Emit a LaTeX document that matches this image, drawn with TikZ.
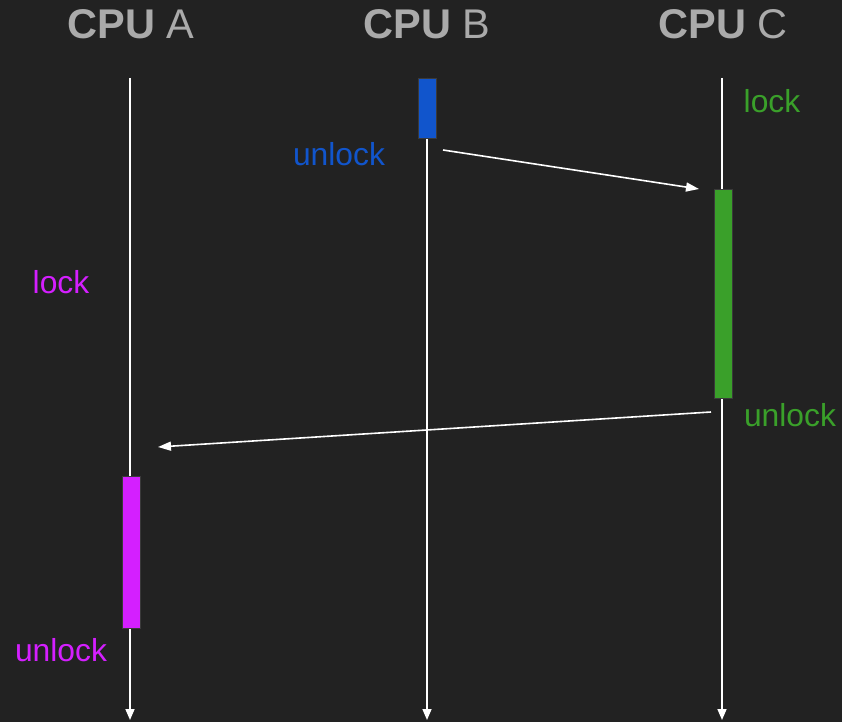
\documentclass[tikz,border=0pt]{standalone}
\usepackage{fontspec}
\setmainfont{Liberation Sans}
\usetikzlibrary{arrows.meta}
\definecolor{bg}{HTML}{222222}
\definecolor{headgray}{HTML}{AAAAAA}
\definecolor{lockblue}{HTML}{1155CC}
\definecolor{lockgreen}{HTML}{3AA02A}
\definecolor{lockmagenta}{HTML}{D41FFF}
\definecolor{baredge}{HTML}{3A3A3A}
\begin{document}
\begin{tikzpicture}[x=1pt,y=-1pt,
  header/.style={text=headgray, font=\fontsize{41.5}{41.5}\selectfont, inner sep=0pt},
  lifeline/.style={draw=white, line width=1.6pt, -{Triangle[width=9pt,length=11pt]}},
  message/.style={draw=white, line width=1.6pt, -{Triangle[width=9pt,length=13pt]}},
  hold/.style={draw=baredge, line width=1pt, minimum width=18pt, inner sep=0pt, anchor=north},
  tag/.style={font=\fontsize{31.8}{31.8}\selectfont, inner sep=0pt}]
  % canvas
  \fill[bg] (0,0) rectangle (842,722);
  \useasboundingbox (0,0) rectangle (842,722);

  % column headers
  \node[header] (hA) at (131,24) {{\bfseries CPU} A};
  \node[header] (hB) at (427,24) {{\bfseries CPU} B};
  \node[header] (hC) at (723,24) {{\bfseries CPU} C};

  % lifelines
  \coordinate (Atop) at (130,78);  \coordinate (Abot) at (130,720);
  \coordinate (Btop) at (427,78);  \coordinate (Bbot) at (427,720);
  \coordinate (Ctop) at (722,78);  \coordinate (Cbot) at (722,720);
  \draw[lifeline] (Atop) -- (Abot);
  \draw[lifeline] (Btop) -- (Bbot);
  \draw[lifeline] (Ctop) -- (Cbot);

  % lock holding intervals
  \node[hold, fill=lockblue, minimum height=60pt] (barB) at (427,78) {};
  \node[hold, fill=lockgreen, minimum height=209pt] (barC) at (723,189) {};
  \node[hold, fill=lockmagenta, minimum height=152pt] (barA) at (131,476) {};

  % labels
  \node[tag, text=lockgreen] (lockC) at (772,101) {lock};
  \node[tag, text=lockblue] (unlockB) at (339,154) {unlock};
  \node[tag, text=lockmagenta] (lockA) at (61,282) {lock};
  \node[tag, text=lockgreen] (unlockC) at (790,415) {unlock};
  \node[tag, text=lockmagenta] (unlockA) at (61,650) {unlock};

  % lock hand-offs
  \coordinate (m1s) at (443,150); \coordinate (m1e) at (699,189);
  \coordinate (m2s) at (711,412); \coordinate (m2e) at (158,447);
  \draw[message] (m1s) -- (m1e);
  \draw[message] (m2s) -- (m2e);
\end{tikzpicture}
\end{document}
